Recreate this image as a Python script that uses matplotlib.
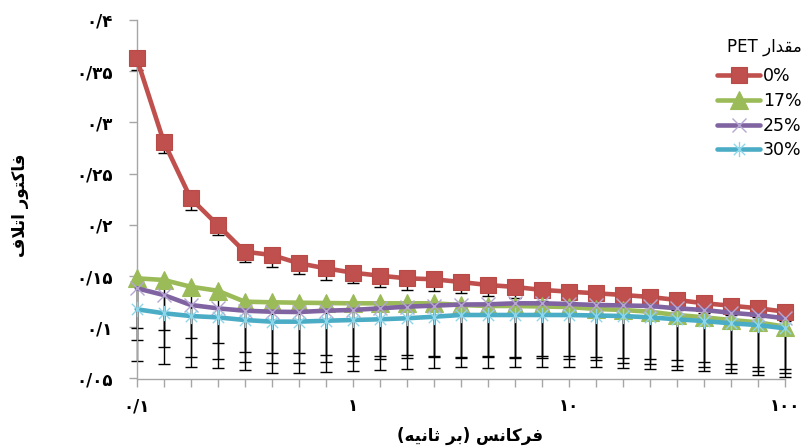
import matplotlib
matplotlib.use("Agg")
import matplotlib.pyplot as plt
from matplotlib.path import Path

# ---------------- data ----------------
freq = [0.1, 0.1334, 0.1778, 0.2371, 0.3162, 0.4217, 0.5623, 0.7499, 1.0,
        1.334, 1.778, 2.371, 3.162, 4.217, 5.623, 7.499, 10.0,
        13.34, 17.78, 23.71, 31.62, 42.17, 56.23, 74.99, 100.0]

pet_0 = [0.3626, 0.2812, 0.2259, 0.1999, 0.1738, 0.1706, 0.1625, 0.1576, 0.1533,
         0.1504, 0.1478, 0.1469, 0.1442, 0.1413, 0.1394, 0.1365, 0.1348, 0.1332,
         0.1316, 0.1296, 0.1267, 0.1235, 0.1211, 0.1186, 0.1153]
pet_17 = [0.1478, 0.1462, 0.1396, 0.1357, 0.1250, 0.1244, 0.1240, 0.1237, 0.1234,
          0.1234, 0.1234, 0.1234, 0.1218, 0.1208, 0.1208, 0.1203, 0.1198, 0.1179,
          0.1169, 0.1152, 0.1120, 0.1098, 0.1071, 0.1049, 0.1006]
pet_25 = [0.1381, 0.1315, 0.1218, 0.1185, 0.1162, 0.1152, 0.1149, 0.1162, 0.1169,
          0.1185, 0.1201, 0.1211, 0.1222, 0.1224, 0.1234, 0.1234, 0.1227, 0.1218,
          0.1213, 0.1208, 0.1185, 0.1169, 0.1142, 0.1120, 0.1088]
pet_30 = [0.1176, 0.1137, 0.1110, 0.1097, 0.1071, 0.1055, 0.1055, 0.1064, 0.1071,
          0.1078, 0.1088, 0.1103, 0.1120, 0.1120, 0.1120, 0.1120, 0.1120, 0.1115,
          0.1110, 0.1097, 0.1078, 0.1061, 0.1039, 0.1022, 0.0990]

# lower error bars
err_0 = [0.0114, 0.0113, 0.0114, 0.0098, 0.0103, 0.0114, 0.0104, 0.0118, 0.0100,
         0.0107, 0.0114, 0.0114, 0.0110, 0.0107, 0.0110, 0.0110, 0.0105, 0.0105,
         0.0100, 0.0100, 0.0100, 0.0095, 0.0095, 0.0090, 0.0090]
err_17 = [0.0488, 0.0488, 0.0504, 0.0508, 0.0488, 0.0498, 0.0494, 0.0508, 0.0512,
          0.0514, 0.0505, 0.0514, 0.0517, 0.0501, 0.0505, 0.0500, 0.0508, 0.0498,
          0.0513, 0.0514, 0.0495, 0.0482, 0.0481, 0.0475, 0.0455]
err_25 = [0.0505, 0.0511, 0.0505, 0.0495, 0.0504, 0.0504, 0.0501, 0.0504, 0.0498,
          0.0495, 0.0504, 0.0504, 0.0510, 0.0502, 0.0521, 0.0512, 0.0505, 0.0505,
          0.0510, 0.0517, 0.0505, 0.0511, 0.0504, 0.0511, 0.0498]
err_30 = [0.0502, 0.0498, 0.0495, 0.0492, 0.0488, 0.0498, 0.0498, 0.0498, 0.0498,
          0.0495, 0.0495, 0.0498, 0.0505, 0.0514, 0.0505, 0.0505, 0.0505, 0.0500,
          0.0503, 0.0505, 0.0495, 0.0488, 0.0488, 0.0488, 0.0473]

series_labels = ["0%", "17%", "25%", "30%"]

y_ticks = [0.05, 0.10, 0.15, 0.20, 0.25, 0.30, 0.35, 0.40]
y_tick_labels = ["۰/۰۵", "۰/۱", "۰/۱۵", "۰/۲", "۰/۲۵", "۰/۳", "۰/۳۵", "۰/۴"]
x_label_map = {0.1: "۰/۱", 1.0: "۱", 10.0: "۱۰", 100.0: "۱۰۰"}

# Persian texts, pre-shaped (presentation forms) in visual order
y_title = "\uFED1\uFEFC\uFE97\uFE8D \uFEAD\uFEEE\uFE98\uFB90\uFE8E\uFED3"          # فاکتور اتلاف
x_title = "(\uFEEA\uFBFF\uFEE7\uFE8E\uFE9B \uFEAE\uFE91) \uFEB2\uFEE7\uFE8E\uFB90\uFEAE\uFED3"  # فرکانس (بر ثانیه)
legend_title = "PET \uFEAD\uFE8D\uFEAA\uFED8\uFEE3"                                 # مقدار PET

# ---------------- styling ----------------
plt.rcParams['font.family'] = ['DejaVu Sans']

fig = plt.figure(figsize=(8.02, 4.46), dpi=100)
ax = fig.add_axes([136.7 / 802, 1 - 378.5 / 446, (784.7 - 136.7) / 802, (378.5 - 20) / 446])

asterisk = Path([(-1, -1), (1, 1), (-1, 1), (1, -1), (0, -1.35), (0, 1.35)],
                [Path.MOVETO, Path.LINETO, Path.MOVETO, Path.LINETO, Path.MOVETO, Path.LINETO])

specs = [
    (pet_0, err_0, dict(color='#C0504D', marker='s', markersize=11.5, mfc='#C0504D', mec='#B84A47', mew=0.8)),
    (pet_17, err_17, dict(color='#9BBB59', marker='^', markersize=12.5, mfc='#9BBB59', mec='#9BBB59', mew=0.8)),
    (pet_25, err_25, dict(color='#8064A2', marker='x', markersize=10.5, mec='#B6A6D2', mew=1.0)),
    (pet_30, err_30, dict(color='#4BACC6', marker=asterisk, markersize=11, mec='#8FD6EA', mew=1.0)),
]

# error bars (minus direction), behind the lines
for vals, err, st in specs:
    zeros = [0.0] * len(err)
    eb = ax.errorbar(freq, vals, yerr=[err, zeros], fmt='none', ecolor='black',
                     elinewidth=1.0, capsize=4.5, capthick=1.0, zorder=2)
    caps = eb[1]
    if len(caps) > 1:
        caps[1].set_visible(False)
    for c in eb[1]:
        c.set_clip_on(False)
    for b in eb[2]:
        b.set_clip_on(False)

handles = []
for i, (vals, err, st) in enumerate(specs):
    ln, = ax.plot(freq, vals, linewidth=3.3, solid_capstyle='round', solid_joinstyle='round',
                  zorder=4 + i, clip_on=False, label=series_labels[i], **st)
    handles.append(ln)

ax.set_xscale('log')
ax.set_xlim(0.1, 100)
ax.set_ylim(0.05, 0.4)

ax.set_xticks(freq)
ax.set_xticklabels([x_label_map.get(f, "") for f in freq])
ax.xaxis.set_minor_locator(matplotlib.ticker.NullLocator())
ax.set_yticks(y_ticks)
ax.set_yticklabels(y_tick_labels)

for s in ['top', 'right']:
    ax.spines[s].set_visible(False)
for s in ['left', 'bottom']:
    ax.spines[s].set_color('#A6A6A6')
    ax.spines[s].set_linewidth(1.0)

ax.tick_params(axis='both', direction='out', length=5.5, width=1.0, color='#A6A6A6')
ax.tick_params(axis='y', pad=12, labelsize=12)
ax.tick_params(axis='x', pad=8, labelsize=12)
for lab in ax.get_xticklabels() + ax.get_yticklabels():
    lab.set_fontweight('bold')

fig.text(20 / 802, 1 - 205 / 446, y_title, rotation=90, ha='center', va='center',
         fontsize=12, fontweight='bold')
fig.text(470 / 802, 1 - 436 / 446, x_title, ha='center', va='center',
         fontsize=12, fontweight='bold')

leg = fig.legend(handles=handles, labels=series_labels, loc='upper left',
                 bbox_to_anchor=(717 / 802, 1 - 38 / 446), frameon=False,
                 fontsize=12.5, title=legend_title, title_fontsize=12,
                 handlelength=2.5, handletextpad=0.15, labelspacing=0.38,
                 borderpad=0.0, borderaxespad=0.0)
leg._legend_box.align = "right"
leg._legend_box.sep = 8

fig.savefig("out.png", dpi=100)
